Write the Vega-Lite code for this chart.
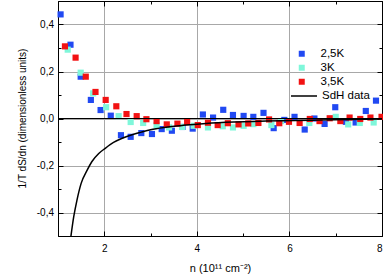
{
 "$schema": "https://vega.github.io/schema/vega-lite/v6.json",
 "autosize": {"type": "none"},
 "width": 324,
 "height": 235,
 "padding": {"left": 58, "top": 1, "right": 1, "bottom": 38},
 "background": "white",
 "config": {
  "view": {"stroke": "black", "strokeWidth": 1},
  "font": "Liberation Sans",
  "axis": {"domainColor": "black", "tickColor": "black", "labelColor": "black", "titleColor": "black", "labelFont": "Liberation Sans", "titleFont": "Liberation Sans", "labelFontSize": 10, "titleFontSize": 10, "titleFontWeight": "normal"}
 },
 "datasets": {
  "pts": [
   {"n": 1.056, "v": 0.443, "T": "2,5K"},
   {"n": 1.27, "v": 0.314, "T": "2,5K"},
   {"n": 1.49, "v": 0.178, "T": "2,5K"},
   {"n": 1.71, "v": 0.079, "T": "2,5K"},
   {"n": 1.92, "v": 0.036, "T": "2,5K"},
   {"n": 2.14, "v": 0.012, "T": "2,5K"},
   {"n": 2.36, "v": -0.071, "T": "2,5K"},
   {"n": 2.57, "v": -0.078, "T": "2,5K"},
   {"n": 2.80, "v": -0.062, "T": "2,5K"},
   {"n": 3.03, "v": -0.066, "T": "2,5K"},
   {"n": 3.24, "v": -0.045, "T": "2,5K"},
   {"n": 3.46, "v": -0.052, "T": "2,5K"},
   {"n": 3.69, "v": -0.036, "T": "2,5K"},
   {"n": 3.91, "v": -0.043, "T": "2,5K"},
   {"n": 4.13, "v": 0.017, "T": "2,5K"},
   {"n": 4.35, "v": 0.004, "T": "2,5K"},
   {"n": 4.57, "v": 0.037, "T": "2,5K"},
   {"n": 4.78, "v": 0.015, "T": "2,5K"},
   {"n": 5.01, "v": 0.011, "T": "2,5K"},
   {"n": 5.22, "v": 0.007, "T": "2,5K"},
   {"n": 5.44, "v": 0.024, "T": "2,5K"},
   {"n": 5.66, "v": -0.041, "T": "2,5K"},
   {"n": 5.89, "v": -0.006, "T": "2,5K"},
   {"n": 6.11, "v": 0.007, "T": "2,5K"},
   {"n": 6.33, "v": -0.047, "T": "2,5K"},
   {"n": 6.54, "v": 0.000, "T": "2,5K"},
   {"n": 6.76, "v": -0.023, "T": "2,5K"},
   {"n": 6.99, "v": 0.048, "T": "2,5K"},
   {"n": 7.22, "v": -0.014, "T": "2,5K"},
   {"n": 7.43, "v": -0.017, "T": "2,5K"},
   {"n": 7.65, "v": 0.032, "T": "2,5K"},
   {"n": 7.87, "v": 0.076, "T": "2,5K"},
   {"n": 1.21, "v": 0.293, "T": "3K"},
   {"n": 1.49, "v": 0.195, "T": "3K"},
   {"n": 1.76, "v": 0.107, "T": "3K"},
   {"n": 2.04, "v": 0.048, "T": "3K"},
   {"n": 2.31, "v": 0.010, "T": "3K"},
   {"n": 2.57, "v": -0.015, "T": "3K"},
   {"n": 2.84, "v": -0.019, "T": "3K"},
   {"n": 3.13, "v": -0.028, "T": "3K"},
   {"n": 3.40, "v": -0.038, "T": "3K"},
   {"n": 3.68, "v": -0.036, "T": "3K"},
   {"n": 3.93, "v": -0.031, "T": "3K"},
   {"n": 4.24, "v": -0.038, "T": "3K"},
   {"n": 4.56, "v": -0.033, "T": "3K"},
   {"n": 4.78, "v": -0.038, "T": "3K"},
   {"n": 5.01, "v": -0.031, "T": "3K"},
   {"n": 5.22, "v": -0.024, "T": "3K"},
   {"n": 5.61, "v": -0.028, "T": "3K"},
   {"n": 5.82, "v": -0.011, "T": "3K"},
   {"n": 6.43, "v": -0.019, "T": "3K"},
   {"n": 7.00, "v": 0.007, "T": "3K"},
   {"n": 7.27, "v": -0.025, "T": "3K"},
   {"n": 7.52, "v": -0.019, "T": "3K"},
   {"n": 7.82, "v": -0.017, "T": "3K"},
   {"n": 1.15, "v": 0.307, "T": "3,5K"},
   {"n": 1.38, "v": 0.259, "T": "3,5K"},
   {"n": 1.60, "v": 0.178, "T": "3,5K"},
   {"n": 1.81, "v": 0.113, "T": "3,5K"},
   {"n": 2.03, "v": 0.079, "T": "3,5K"},
   {"n": 2.26, "v": 0.052, "T": "3,5K"},
   {"n": 2.48, "v": 0.019, "T": "3,5K"},
   {"n": 2.70, "v": 0.010, "T": "3,5K"},
   {"n": 2.91, "v": -0.003, "T": "3,5K"},
   {"n": 3.13, "v": -0.011, "T": "3,5K"},
   {"n": 3.35, "v": -0.025, "T": "3,5K"},
   {"n": 3.58, "v": -0.022, "T": "3,5K"},
   {"n": 3.79, "v": -0.015, "T": "3,5K"},
   {"n": 4.02, "v": -0.028, "T": "3,5K"},
   {"n": 4.24, "v": -0.018, "T": "3,5K"},
   {"n": 4.45, "v": -0.028, "T": "3,5K"},
   {"n": 4.67, "v": -0.020, "T": "3,5K"},
   {"n": 4.90, "v": -0.025, "T": "3,5K"},
   {"n": 5.11, "v": -0.021, "T": "3,5K"},
   {"n": 5.33, "v": -0.019, "T": "3,5K"},
   {"n": 5.56, "v": -0.004, "T": "3,5K"},
   {"n": 5.78, "v": -0.020, "T": "3,5K"},
   {"n": 5.99, "v": -0.014, "T": "3,5K"},
   {"n": 6.22, "v": -0.019, "T": "3,5K"},
   {"n": 6.44, "v": -0.002, "T": "3,5K"},
   {"n": 6.65, "v": -0.011, "T": "3,5K"},
   {"n": 6.87, "v": 0.001, "T": "3,5K"},
   {"n": 7.10, "v": -0.011, "T": "3,5K"},
   {"n": 7.30, "v": 0.004, "T": "3,5K"},
   {"n": 7.53, "v": -0.002, "T": "3,5K"},
   {"n": 7.75, "v": 0.004, "T": "3,5K"},
   {"n": 7.99, "v": 0.007, "T": "3,5K"}
  ],
  "sdh": [
   {"n": 1.28, "v": -0.5, "s": "SdH data"},
   {"n": 1.34, "v": -0.418, "s": "SdH data"},
   {"n": 1.41, "v": -0.347, "s": "SdH data"},
   {"n": 1.50, "v": -0.276, "s": "SdH data"},
   {"n": 1.63, "v": -0.220, "s": "SdH data"},
   {"n": 1.73, "v": -0.184, "s": "SdH data"},
   {"n": 1.88, "v": -0.149, "s": "SdH data"},
   {"n": 2.02, "v": -0.127, "s": "SdH data"},
   {"n": 2.2, "v": -0.102, "s": "SdH data"},
   {"n": 2.4, "v": -0.083, "s": "SdH data"},
   {"n": 2.6, "v": -0.069, "s": "SdH data"},
   {"n": 2.8, "v": -0.058, "s": "SdH data"},
   {"n": 3.0, "v": -0.048, "s": "SdH data"},
   {"n": 3.3, "v": -0.038, "s": "SdH data"},
   {"n": 3.7, "v": -0.029, "s": "SdH data"},
   {"n": 4.2, "v": -0.021, "s": "SdH data"},
   {"n": 4.8, "v": -0.015, "s": "SdH data"},
   {"n": 5.5, "v": -0.011, "s": "SdH data"},
   {"n": 6.5, "v": -0.007, "s": "SdH data"},
   {"n": 7.3, "v": -0.004, "s": "SdH data"},
   {"n": 8.0, "v": -0.002, "s": "SdH data"}
  ]
 },
 "layer": [
  {
   "data": {"name": "pts"},
   "mark": {"type": "square", "size": 38, "opacity": 1},
   "encoding": {
    "x": {"field": "n", "type": "quantitative", "scale": {"domain": [1, 8], "nice": false, "zero": false},
     "axis": {"orient": "bottom", "values": [2, 3, 4, 5, 6, 7, 8],
      "labelExpr": "datum.value % 2 == 0 ? datum.label : ''",
      "grid": true, "gridColor": "#a8a8a8",
      "gridOpacity": {"condition": {"test": "datum.value == 2 || datum.value == 4 || datum.value == 6", "value": 1}, "value": 0},
      "tickSize": {"condition": {"test": "datum.value % 2 == 0", "value": -5}, "value": -3},
      "labelPadding": 12,
      "title": "n (10¹¹ cm⁻²)", "titleFontSize": 11, "titleX": 162, "titleY": 32, "titleBaseline": "middle", "titleAlign": "center"}},
    "y": {"field": "v", "type": "quantitative", "scale": {"domain": [-0.5, 0.5], "nice": false},
     "axis": {"orient": "left", "values": [-0.4, -0.3, -0.2, -0.1, 0, 0.1, 0.2, 0.3, 0.4],
      "labelExpr": "abs(round(datum.value*10)) % 2 == 0 ? ((datum.value < 0 ? '-' : '') + '0,' + abs(round(datum.value*10))) : ''",
      "grid": true, "gridColor": "#a8a8a8",
      "gridOpacity": {"condition": {"test": "abs(round(datum.value*10)) % 2 == 0", "value": 1}, "value": 0},
      "tickSize": {"condition": {"test": "abs(round(datum.value*10)) % 2 == 0", "value": -5}, "value": -3},
      "labelPadding": 9.5,
      "title": "1/T dS/dn (dimensionless units)", "titleAngle": -90, "titleX": -36, "titleY": 117, "titleAlign": "center", "titleBaseline": "middle"}},
    "color": {"field": "T", "type": "nominal",
     "scale": {"domain": ["2,5K", "3K", "3,5K"], "range": ["#2149f2", "#7ff7da", "#f21212"]},
     "legend": {"title": null, "orient": "none", "legendX": 238, "legendY": 47, "symbolType": "square", "symbolSize": 36, "symbolOpacity": 1,
      "labelFontSize": 11.5, "labelFont": "Liberation Sans", "labelColor": "black", "labelOffset": 13, "rowPadding": 1, "padding": 0}}
   }
  },
  {
   "data": {"values": [{}]},
   "mark": {"type": "rule", "color": "black", "strokeWidth": 1.2},
   "encoding": {"y": {"datum": 0, "type": "quantitative", "axis": null}}
  },
  {
   "data": {"name": "sdh"},
   "mark": {"type": "line", "strokeWidth": 1.5, "interpolate": "monotone"},
   "encoding": {
    "x": {"field": "n", "type": "quantitative",
     "axis": {"orient": "top", "values": [2, 3, 4, 5, 6, 7, 8], "labels": false, "grid": false, "title": null,
      "tickSize": {"condition": {"test": "datum.value % 2 == 0", "value": -5}, "value": -3}}},
    "y": {"field": "v", "type": "quantitative",
     "axis": {"orient": "right", "values": [-0.4, -0.3, -0.2, -0.1, 0, 0.1, 0.2, 0.3, 0.4], "labels": false, "grid": false, "title": null,
      "tickSize": {"condition": {"test": "abs(round(datum.value*10)) % 2 == 0", "value": -5}, "value": -3}}},
    "stroke": {"field": "s", "type": "nominal", "scale": {"domain": ["SdH data"], "range": ["black"]},
     "legend": {"title": null, "orient": "none", "legendX": 232, "legendY": 81, "symbolType": "stroke", "symbolSize": 676, "symbolStrokeWidth": 1.5,
      "labelFontSize": 11.5, "labelFont": "Liberation Sans", "labelColor": "black", "labelOffset": 4, "padding": 0}}
   }
  }
 ],
 "resolve": {"axis": {"x": "independent", "y": "independent"}}
}
